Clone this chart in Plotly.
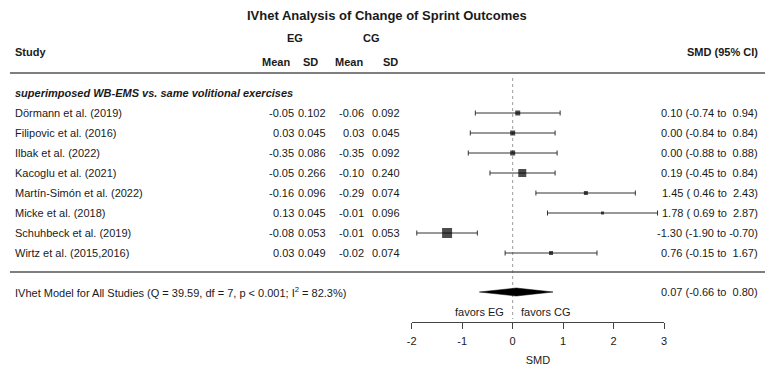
import plotly.graph_objects as go

# ---------------- data ----------------
title = "IVhet Analysis of Change of Sprint Outcomes"
subgroup = "superimposed WB-EMS vs. same volitional exercises"
studies = ["Dörmann et al. (2019)", "Filipovic et al. (2016)", "Ilbak et al. (2022)",
           "Kacoglu et al. (2021)", "Martín-Simón et al. (2022)", "Micke et al. (2018)",
           "Schuhbeck et al. (2019)", "Wirtz et al. (2015,2016)"]
eg_mean = ["-0.05", "0.03", "-0.35", "-0.05", "-0.16", "0.13", "-0.08", "0.03"]
eg_sd = ["0.102", "0.045", "0.086", "0.266", "0.096", "0.045", "0.053", "0.049"]
cg_mean = ["-0.06", "0.03", "-0.35", "-0.10", "-0.29", "-0.01", "-0.01", "-0.02"]
cg_sd = ["0.092", "0.045", "0.092", "0.240", "0.074", "0.096", "0.053", "0.074"]
smd = [0.10, 0.00, 0.00, 0.19, 1.45, 1.78, -1.30, 0.76]
ci_lo = [-0.74, -0.84, -0.88, -0.45, 0.46, 0.69, -1.90, -0.15]
ci_hi = [0.94, 0.84, 0.88, 0.84, 2.43, 2.87, -0.70, 1.67]
pooled_label = "IVhet Model for All Studies (Q = 39.59, df = 7, p < 0.001; I<sup>2</sup> = 82.3%)"
pooled_smd, pooled_lo, pooled_hi = 0.07, -0.66, 0.80
x_ticks = [-2, -1, 0, 1, 2, 3]
x_title = "SMD"
favors_left, favors_right = "favors EG", "favors CG"

# ---------------- style ----------------
W, H = 772, 369
FONT = "Liberation Sans, Arial, Helvetica, sans-serif"
TXT = "#1a1a1a"
marker_px = [5, 5, 5, 8, 4, 3, 10, 4]   # square sizes (study weights)
row0, row_step = 113, 20
ax_left_px, ax_right_px = 411, 666
axis_y_px = 322

def fmt_ci(m, lo, hi):
    return f"{m:.2f} ({lo:5.2f} to {hi:5.2f})".replace(" ", "\u00a0")

fig = go.Figure()
rows_y = [row0 + row_step * i for i in range(len(studies))]

# dotted null line
fig.add_trace(go.Scatter(x=[0, 0], y=[78, axis_y_px - 3], mode="lines",
                         line=dict(color="#9a9a9a", width=1, dash="dot"),
                         xaxis="x2", yaxis="y", hoverinfo="skip", showlegend=False))

# study estimates with CIs
fig.add_trace(go.Scatter(
    x=smd, y=rows_y, mode="markers", xaxis="x2", yaxis="y",
    marker=dict(symbol="square", size=marker_px, color="black", line=dict(width=0)),
    error_x=dict(type="data", symmetric=False,
                 array=[h - m for h, m in zip(ci_hi, smd)],
                 arrayminus=[m - l for m, l in zip(smd, ci_lo)],
                 color="#333333", thickness=1, width=2.5),
    showlegend=False, cliponaxis=False))

# pooled diamond
dy = 4
py = 292
fig.add_trace(go.Scatter(
    x=[pooled_lo, pooled_smd, pooled_hi, pooled_smd, pooled_lo],
    y=[py, py - dy, py, py + dy, py], mode="lines", fill="toself",
    fillcolor="black", line=dict(color="black", width=0.5),
    xaxis="x2", yaxis="y", showlegend=False, hoverinfo="skip"))

ann = []
def T(x, y, s, anchor="left", size=11, bold=False, italic=False):
    if bold:
        s = f"<b>{s}</b>"
    if italic:
        s = f"<i>{s}</i>"
    ann.append(dict(x=x, y=y, xref="x", yref="y", text=s, showarrow=False,
                    xanchor=anchor, yanchor="middle", borderpad=0, borderwidth=0,
                    font=dict(family=FONT, size=size, color=TXT)))

T(386, 15, title, "center", size=13, bold=True)
T(10, 52, "Study", bold=True)
T(293, 38, "EG", "center", bold=True)
T(370, 38, "CG", "center", bold=True)
T(274, 62, "Mean", "center", bold=True)
T(309, 62, "SD", "center", bold=True)
T(348, 62, "Mean", "center", bold=True)
T(390, 62, "SD", "center", bold=True)
T(761, 52, "SMD (95% CI)", "right", bold=True)
T(10, 93, subgroup, bold=True, italic=True)

for i, y in enumerate(rows_y):
    T(10, y, studies[i])
    T(292, y, eg_mean[i], "right")
    T(324, y, eg_sd[i], "right")
    T(363, y, cg_mean[i], "right")
    T(399, y, cg_sd[i], "right")
    T(761, y, fmt_ci(smd[i], ci_lo[i], ci_hi[i]), "right")

T(10, py, pooled_label)
T(761, py, fmt_ci(pooled_smd, pooled_lo, pooled_hi), "right")
T(504, 312, favors_left, "right")
T(521, 312, favors_right, "left")

shapes = [
    dict(type="line", xref="x", yref="y", x0=5, x1=768, y0=73, y1=73,
         line=dict(color="#555555", width=1.5)),
    dict(type="line", xref="x", yref="y", x0=5, x1=768, y0=272, y1=272,
         line=dict(color="#555555", width=1.5)),
]

fig.update_layout(
    width=W, height=H, margin=dict(l=0, r=0, t=0, b=0),
    paper_bgcolor="white", plot_bgcolor="rgba(0,0,0,0)",
    annotations=ann, shapes=shapes, showlegend=False,
    xaxis=dict(domain=[0, 1], range=[0, W], visible=False, fixedrange=True),
    yaxis=dict(domain=[0, 1], range=[H, 0], visible=False, fixedrange=True),
    xaxis2=dict(domain=[ax_left_px / W, ax_right_px / W], range=[-2, 3],
                anchor="free", position=1 - axis_y_px / H,
                showline=True, linecolor="#444444", linewidth=1,
                ticks="outside", ticklen=6, tickcolor="#444444", tickwidth=1,
                ticklabelstandoff=3,
                tickvals=x_ticks, ticktext=[str(t) for t in x_ticks],
                tickfont=dict(family=FONT, size=11, color=TXT),
                showgrid=False, zeroline=False, fixedrange=True,
                title=dict(text=x_title, font=dict(family=FONT, size=11, color=TXT),
                           standoff=10)),
)

fig.write_html("out.html")
